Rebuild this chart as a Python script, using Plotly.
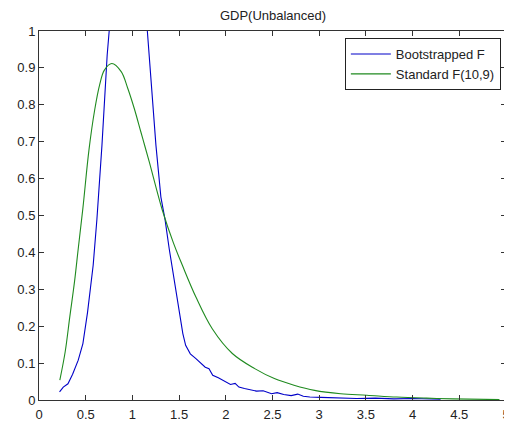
import plotly.graph_objects as go

title = "GDP(Unbalanced)"
boot_name = "Bootstrapped F"
std_name = "Standard F(10,9)"

boot_x = [0.22, 0.26, 0.31, 0.36, 0.42, 0.47, 0.52, 0.58, 0.62, 0.65, 0.674, 0.73, 0.75, 0.80,
          0.85, 0.90, 0.95, 1.00, 1.05, 1.10, 1.16, 1.18, 1.215, 1.252, 1.305, 1.35, 1.394,
          1.45, 1.50, 1.54, 1.57, 1.62, 1.68, 1.73, 1.78, 1.82, 1.86, 1.92, 2.00, 2.05, 2.10,
          2.14, 2.20, 2.28, 2.33, 2.40, 2.49, 2.55, 2.62, 2.70, 2.77, 2.83, 2.90, 3.02, 3.20,
          3.40, 3.60, 3.80, 4.00, 4.20, 4.30]
boot_y = [0.022, 0.035, 0.044, 0.070, 0.108, 0.153, 0.238, 0.365, 0.490, 0.600, 0.690, 0.935,
          1.00, 1.20, 1.35, 1.45, 1.48, 1.45, 1.35, 1.15, 1.00, 0.935, 0.820, 0.690, 0.550,
          0.488, 0.410, 0.320, 0.238, 0.180, 0.148, 0.125, 0.112, 0.100, 0.089, 0.085, 0.067,
          0.060, 0.049, 0.042, 0.045, 0.035, 0.031, 0.026, 0.024, 0.025, 0.017, 0.020, 0.015,
          0.012, 0.016, 0.010, 0.008, 0.007, 0.006, 0.004, 0.005, 0.003, 0.004, 0.002, 0.002]

std_x = [0.223, 0.28, 0.33, 0.38, 0.42, 0.47, 0.535, 0.596, 0.649, 0.70, 0.78, 0.88, 0.95,
         1.02, 1.09, 1.13, 1.18, 1.32, 1.44, 1.535, 1.68, 1.855, 2.07, 2.31, 2.52, 2.73, 2.95,
         3.23, 3.51, 3.83, 4.15, 4.43, 4.93]
std_y = [0.054, 0.130, 0.226, 0.320, 0.410, 0.520, 0.678, 0.786, 0.854, 0.894, 0.912, 0.890,
         0.845, 0.790, 0.727, 0.691, 0.646, 0.515, 0.425, 0.365, 0.279, 0.193, 0.126, 0.085,
         0.058, 0.040, 0.026, 0.017, 0.013, 0.008, 0.005, 0.003, 0.001]

x_ticks = [0, 0.5, 1, 1.5, 2, 2.5, 3, 3.5, 4, 4.5, 5]
x_tick_text = ["0", "0.5", "1", "1.5", "2", "2.5", "3", "3.5", "4", "4.5", "5"]
y_ticks = [0, 0.1, 0.2, 0.3, 0.4, 0.5, 0.6, 0.7, 0.8, 0.9, 1]
y_tick_text = ["0", "0.1", "0.2", "0.3", "0.4", "0.5", "0.6", "0.7", "0.8", "0.9", "1"]

FONT = "Liberation Sans, Arial"

fig = go.Figure()
fig.add_trace(go.Scatter(x=boot_x, y=boot_y, mode="lines", name=boot_name,
                         line=dict(color="#0000c8", width=1.1)))
fig.add_trace(go.Scatter(x=std_x, y=std_y, mode="lines", name=std_name, line_shape="spline",
                         line=dict(color="#1f8a1f", width=1.1)))

axis_common = dict(showgrid=False, zeroline=False, showline=True, linecolor="#333333",
                   linewidth=1, mirror="allticks", ticks="inside", ticklen=5,
                   tickcolor="#333333", automargin=False,
                   tickfont=dict(family=FONT, size=13, color="#222222"))
fig.update_xaxes(range=[0, 5], tickvals=x_ticks, ticktext=x_tick_text, ticklabelstandoff=2,
                 **axis_common)
fig.update_yaxes(range=[0, 1], tickvals=y_ticks, ticktext=y_tick_text, **axis_common)

# page body has an 8px default margin, so the figure is sized/offset to compensate
fig.update_layout(
    width=504, height=415,
    margin=dict(l=31, r=6, t=23, b=23, autoexpand=False),
    paper_bgcolor="white", plot_bgcolor="white",
    title=dict(text=title, x=265 / 504, xanchor="center", y=1 - 7.5 / 415,
               yanchor="middle", automargin=False,
               font=dict(family=FONT, size=13, color="#222222")),
    legend=dict(x=0.989, xanchor="right", y=0.981, yanchor="top",
                bordercolor="#222222", borderwidth=1, bgcolor="white",
                font=dict(family=FONT, size=13, color="#222222"),
                tracegroupgap=0, itemwidth=40),
    showlegend=True,
)

fig.write_html("out.html")
